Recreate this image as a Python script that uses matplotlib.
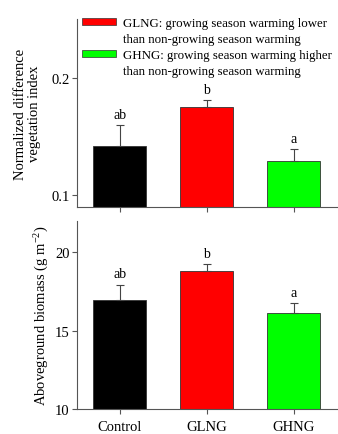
import numpy as np
import matplotlib.pyplot as plt
from matplotlib.patches import Patch

# Data
groups = ['Control', 'GLNG', 'GHNG']
colors = ['#000000', '#ff0000', '#00ff00']

ndvi_mean = [0.142, 0.175, 0.129]
ndvi_err = [0.018, 0.006, 0.010]
ndvi_letters = ['ab', 'b', 'a']

agb_mean = [16.95, 18.82, 16.15]
agb_err = [0.98, 0.40, 0.58]
agb_letters = ['ab', 'b', 'a']

legend_labels = ['GLNG: growing season warming lower',
                 'than non-growing season warming',
                 'GHNG: growing season warming higher',
                 'than non-growing season warming']

plt.rcParams['font.family'] = ['Liberation Serif', 'DejaVu Serif']
plt.rcParams['mathtext.fontset'] = 'custom'
plt.rcParams['mathtext.rm'] = 'Liberation Serif'
plt.rcParams['mathtext.it'] = 'Liberation Serif:italic'

spine_col = '#555555'

fig = plt.figure(figsize=(3.38, 4.35), dpi=100)
ax1 = fig.add_axes([0.228, 0.522, 0.772, 0.432])
ax2 = fig.add_axes([0.228, 0.0575, 0.772, 0.4325])

x = np.arange(len(groups))


def draw_panel(ax, means, errs, letters, ylim, yticks, ytick_fmt):
    ax.bar(x, means, width=0.61, color=colors, edgecolor='#333333',
           linewidth=0.6, zorder=2)
    ax.errorbar(x, means, yerr=[np.zeros(len(errs)), errs], fmt='none',
                ecolor='#444444', elinewidth=0.8, capsize=3, capthick=0.8,
                zorder=3)
    for xi, m, e, t in zip(x, means, errs, letters):
        ax.annotate(t, (xi, m + e), xytext=(0, 3), textcoords='offset points',
                    ha='center', va='bottom', fontsize=10)
    ax.set_xlim(-0.49, 2.51)
    ax.set_ylim(*ylim)
    ax.set_yticks(yticks)
    ax.set_yticklabels([ytick_fmt(v) for v in yticks], fontsize=10.5)
    ax.set_xticks(x)
    for side in ['top', 'right']:
        ax.spines[side].set_visible(False)
    for side in ['left', 'bottom']:
        ax.spines[side].set_color(spine_col)
        ax.spines[side].set_linewidth(0.8)
    ax.tick_params(direction='out', length=3.5, width=0.8, color=spine_col,
                   pad=2)


draw_panel(ax1, ndvi_mean, ndvi_err, ndvi_letters, (0.09, 0.25), [0.1, 0.2],
           lambda v: f'{v:.1f}')
ax1.set_xticklabels([])
ax1.set_ylabel('Normalized difference\nvegetation index', fontsize=10.5,
               labelpad=7, linespacing=1.1)

draw_panel(ax2, agb_mean, agb_err, agb_letters, (10, 22), [10, 15, 20],
           lambda v: f'{v:d}')
ax2.set_xticklabels(groups, fontsize=10.5)
ax2.tick_params(axis='x', pad=4.5)
ax2.set_ylabel(r'Aboveground biomass (g m$^{-2}$)', fontsize=10.5,
               labelpad=3)

handles = [Patch(facecolor=colors[1], edgecolor='#333333', linewidth=0.5),
           Patch(facecolor='none', edgecolor='none'),
           Patch(facecolor=colors[2], edgecolor='#333333', linewidth=0.5),
           Patch(facecolor='none', edgecolor='none')]
ax1.legend(handles, legend_labels, loc='upper left',
           bbox_to_anchor=(0.02, 1.01), frameon=False, fontsize=9.3,
           handlelength=2.6, handleheight=0.5, handletextpad=0.55,
           labelspacing=0.3, borderpad=0, borderaxespad=0)

fig.savefig('out.png', dpi=100)
